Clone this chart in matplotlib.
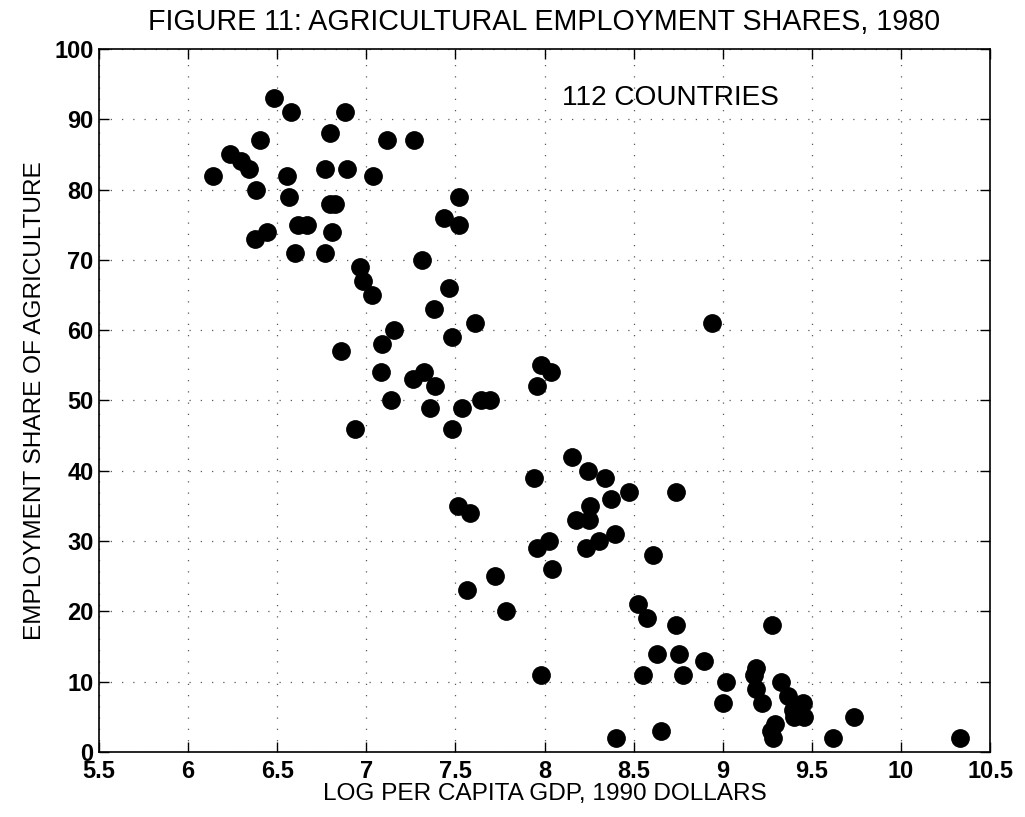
import matplotlib
matplotlib.use('Agg')
import matplotlib.pyplot as plt

plt.rcParams['font.family'] = ['Liberation Sans', 'DejaVu Sans']

# log per capita GDP (1990 dollars) and agricultural employment share
log_gdp = [
    6.138, 6.482, 6.576, 6.880, 6.798, 6.403, 7.114, 7.269, 6.235, 6.295,
    6.342, 6.553, 6.768, 6.890, 7.039, 6.381, 6.564, 6.796, 6.824, 7.518,
    7.436, 7.518, 6.619, 6.665, 6.375, 6.444, 6.808, 6.600, 6.768, 7.311,
    6.965, 6.980, 7.032, 7.466, 7.380, 7.608, 7.157, 7.479, 7.086, 6.858,
    7.082, 7.264, 7.324, 7.387, 7.139, 7.357, 7.535, 7.645, 7.694, 8.942,
    7.979, 8.035, 7.956, 6.937, 7.479, 7.513, 7.582, 7.722, 7.563, 7.784,
    8.156, 8.246, 8.339, 7.943, 8.472, 8.738, 8.375, 8.255, 8.177, 8.252,
    8.398, 8.027, 8.307, 7.956, 8.233, 8.611, 8.040, 8.527, 8.573, 8.738,
    9.274, 8.629, 8.755, 8.897, 9.185, 9.174, 7.980, 8.554, 8.775, 9.019,
    9.327, 9.189, 9.366, 9.003, 9.218, 9.452, 9.395, 9.400, 9.457, 9.737,
    9.296, 9.272, 8.652, 9.284, 8.400, 9.617, 10.332,
]
ag_share = [
    82, 93, 91, 91, 88, 87, 87, 87, 85, 84,
    83, 82, 83, 83, 82, 80, 79, 78, 78, 79,
    76, 75, 75, 75, 73, 74, 74, 71, 71, 70,
    69, 67, 65, 66, 63, 61, 60, 59, 58, 57,
    54, 53, 54, 52, 50, 49, 49, 50, 50, 61,
    55, 54, 52, 46, 46, 35, 34, 25, 23, 20,
    42, 40, 39, 39, 37, 37, 36, 35, 33, 33,
    31, 30, 30, 29, 29, 28, 26, 21, 19, 18,
    18, 14, 14, 13, 12, 11, 11, 11, 11, 10,
    10, 9, 8, 7, 7, 7, 6, 5, 5, 5,
    4, 3, 3, 2, 2, 2, 2,
]

x_ticks = [5.5, 6, 6.5, 7, 7.5, 8, 8.5, 9, 9.5, 10, 10.5]
x_tick_labels = ['5.5', '6', '6.5', '7', '7.5', '8', '8.5', '9', '9.5', '10', '10.5']
y_ticks = list(range(0, 101, 10))

fig = plt.figure(figsize=(10.25, 8.17), dpi=100)
ax = fig.add_axes([0.0966, 0.0796, 0.8693, 0.8604])

ax.plot(log_gdp, ag_share, 'o', color='black', markersize=12.5, zorder=3)

ax.set_xlim(5.5, 10.5)
ax.set_ylim(0, 100)
ax.set_xticks(x_ticks)
ax.set_xticklabels(x_tick_labels)
ax.set_yticks(y_ticks)

ax.grid(True, color='0.35', linestyle=(0, (1, 8)), linewidth=0.9)
ax.tick_params(direction='in', length=7, width=1, top=True, right=True,
               labelsize=17)
ax.tick_params(axis='x', pad=6)
ax.tick_params(axis='y', pad=4)
for lab in ax.get_xticklabels() + ax.get_yticklabels():
    lab.set_fontweight('bold')
for sp in ax.spines.values():
    sp.set_linewidth(1.2)

ax.set_title('FIGURE 11: AGRICULTURAL EMPLOYMENT SHARES, 1980', fontsize=20.6, pad=14)
ax.set_xlabel('LOG PER CAPITA GDP, 1990 DOLLARS', fontsize=17.6, labelpad=0)
ax.set_ylabel('EMPLOYMENT SHARE OF AGRICULTURE', fontsize=17.6, labelpad=6)
ax.text(8.1, 93, '112 COUNTRIES', fontsize=20.2, va='center', ha='left')

fig.savefig('out.png', dpi=100)
